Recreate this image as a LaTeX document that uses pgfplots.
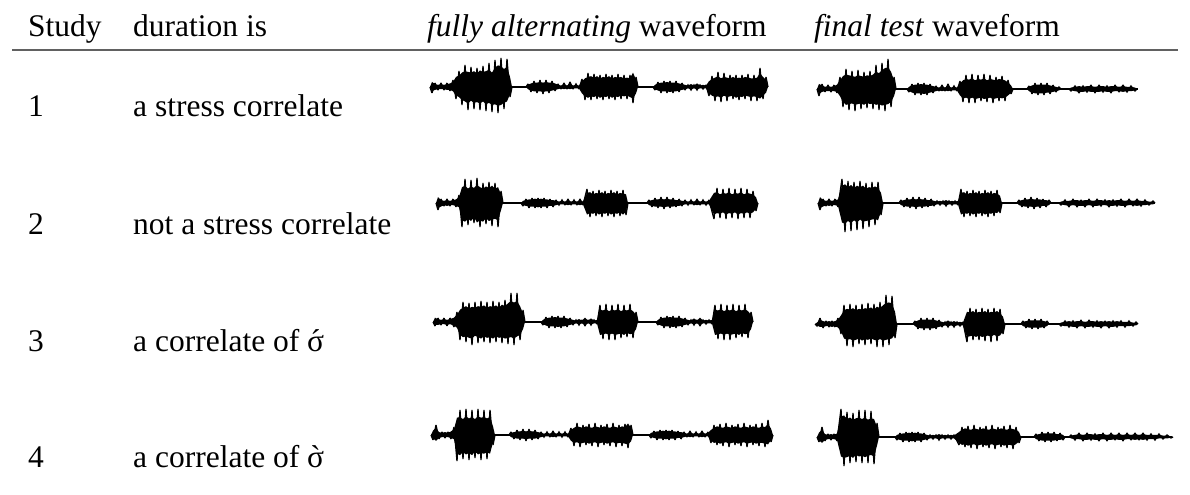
\documentclass[border=0pt]{standalone}
\usepackage{pgfplots}
\usepackage{pgfplotstable}
\pgfplotsset{compat=1.18}
\usepgfplotslibrary{fillbetween}
\usepackage{fontspec}
\setmainfont{Liberation Serif}
\newfontfamily\plainserif{Liberation Serif}
\newcommand{\fs}{\fontsize{31.5bp}{38bp}\selectfont}
\newcommand{\acsig}{{\ooalign{σ\cr\hidewidth{\plainserif\char"B4}\hidewidth\cr}}}
\newcommand{\grsig}{{\ooalign{σ\cr\hidewidth{\plainserif\char"60}\hidewidth\cr}}}

% waveforms: x, upward amplitude u, downward amplitude d (pixels)
\pgfplotstableread{
x u d
430 0 0
432 7 6
435 4 4
438 3 3
441 4 3
444 3 3
447 4 4
450 5 4
453 7 6
456 14 12
459 16 14
462 20 18
465 22 20
468 21 23
471 20 19
474 22 22
477 19 21
480 23 23
483 21 20
486 22 24
489 24 22
492 20 25
495 27 24
498 30 26
501 29 25
504 25 22
507 28 20
510 14 10
512 0 0
526 0 0
528 3 3
531 5 5
534 6 6
537 6 6
540 7 6
543 6 7
546 7 6
549 6 6
552 6 5
555 5 4
558 3 3
561 2 2
564 4 3
567 2 2
570 5 3
573 2 2
576 3 2
579 2 2
582 8 9
585 12 13
588 14 15
591 15 13
594 13 14
597 15 12
600 12 15
603 14 13
606 13 14
609 15 12
612 12 15
615 14 13
618 13 14
621 14 12
624 12 13
627 13 12
630 12 14
633 20 16
636 10 9
638 0 0
653 0 0
655 3 3
658 5 5
661 6 6
664 6 6
667 7 6
670 6 7
673 6 6
676 6 6
679 5 5
682 4 4
685 3 3
688 2 2
691 4 3
694 2 2
697 5 3
700 2 2
703 3 2
706 2 2
709 8 9
712 11 12
715 13 14
718 15 13
721 12 15
724 14 12
727 13 14
730 12 13
733 14 12
736 12 15
739 13 13
742 12 14
745 14 12
748 13 13
751 12 14
754 12 13
757 13 14
760 19 16
763 14 12
766 10 8
768 0 0
}\waveA

\pgfplotstableread{
x u d
817 0 0
819 7 7
822 5 4
825 3 3
828 4 3
831 3 3
834 4 3
837 6 4
840 12 10
843 18 18
846 20 22
849 19 21
852 18 20
855 17 22
858 19 21
861 18 20
864 17 22
867 19 19
870 18 21
873 20 20
876 24 22
879 22 21
882 26 23
885 29 22
888 30 21
891 24 18
894 12 10
896 0 0
907 0 0
909 3 3
912 5 5
915 6 6
918 6 6
921 7 6
924 6 7
927 6 6
930 5 5
933 4 4
936 3 3
939 2 2
942 4 3
945 2 2
948 5 3
951 2 2
954 3 2
957 2 2
960 8 9
963 12 13
966 14 12
969 13 14
972 15 12
975 12 14
978 14 13
981 13 12
984 15 14
987 12 13
990 14 12
993 13 14
996 12 13
999 14 12
1002 13 13
1005 12 12
1008 9 9
1011 5 5
1013 0 0
1027 0 0
1029 3 3
1032 5 5
1035 6 6
1038 6 6
1041 6 6
1044 6 6
1047 6 5
1050 5 5
1053 4 4
1056 3 3
1059 2 2
1061 0 0
1069 0 0
1071 2 2
1075 3 3
1079 4 4
1083 3 4
1087 4 3
1091 4 4
1095 3 4
1099 4 4
1103 4 3
1107 3 4
1111 4 4
1115 4 3
1119 3 3
1123 4 4
1127 3 3
1131 3 3
1135 2 2
1137 0 0
}\waveB

\pgfplotstableread{
x u d
436 0 0
438 8 7
441 4 5
444 3 3
447 4 4
450 3 3
453 4 3
456 5 4
459 8 6
462 22 24
465 24 26
468 20 22
471 23 25
474 21 20
477 25 27
480 22 24
483 20 26
486 23 21
489 21 25
492 24 23
495 20 22
498 22 24
501 12 10
503 0 0
521 0 0
523 3 3
526 4 4
529 5 5
532 5 5
535 6 5
538 5 6
541 6 5
544 5 5
547 5 5
550 4 4
553 4 4
556 3 3
559 2 2
562 3 2
565 2 2
568 4 3
571 2 2
574 3 2
577 2 2
580 4 3
583 2 2
587 14 16
590 15 14
593 12 15
596 14 13
599 13 16
602 15 14
605 12 15
608 14 13
611 13 16
614 15 14
617 12 15
620 14 13
623 13 16
626 12 12
628 0 0
647 0 0
649 3 3
652 4 4
655 5 5
658 5 5
661 6 5
664 5 6
667 6 5
670 5 5
673 5 5
676 4 4
679 4 4
682 3 3
685 3 2
688 2 2
691 3 2
694 2 2
697 4 3
700 2 2
703 3 2
706 2 2
709 3 2
714 14 16
717 15 14
720 12 15
723 14 13
726 13 16
729 15 14
732 12 15
735 14 13
738 13 16
741 15 14
744 12 15
747 14 13
750 13 15
753 12 13
756 8 8
758 0 0
}\waveC

\pgfplotstableread{
x u d
818 0 0
820 8 7
823 4 5
826 3 3
829 4 4
832 3 3
835 4 3
838 5 4
842 24 27
845 26 29
848 22 25
851 25 28
854 21 24
857 24 27
860 22 23
863 24 26
866 20 25
869 22 24
872 21 23
875 23 22
878 21 24
881 14 12
883 0 0
899 0 0
901 3 3
904 4 4
907 5 5
910 5 5
913 6 5
916 5 6
919 6 5
922 5 5
925 5 5
928 4 4
931 4 4
934 3 3
937 2 2
940 3 2
943 2 2
946 4 3
949 2 2
952 3 2
955 2 2
958 3 2
961 14 16
964 15 14
967 12 15
970 14 13
973 13 16
976 15 14
979 12 15
982 14 13
985 13 16
988 15 14
991 12 15
994 14 13
997 13 14
1000 10 10
1002 0 0
1017 0 0
1019 3 3
1022 4 4
1025 5 5
1028 5 5
1031 6 5
1034 5 6
1037 5 5
1040 5 5
1043 4 4
1046 4 4
1049 3 3
1051 0 0
1059 0 0
1061 2 2
1065 3 3
1069 3 4
1073 4 3
1077 4 4
1081 3 4
1085 4 4
1089 4 3
1093 3 4
1097 4 4
1101 4 3
1105 3 3
1109 4 4
1113 3 4
1117 4 3
1121 4 4
1125 3 4
1129 4 3
1133 3 3
1137 4 4
1141 3 3
1145 3 3
1149 2 2
1153 2 2
1155 0 0
}\waveD

\pgfplotstableread{
x u d
433 0 0
435 6 4
438 4 4
441 3 3
444 4 3
447 3 4
450 4 3
454 6 5
457 10 8
460 17 18
463 20 21
466 22 20
469 19 22
472 21 23
475 20 19
478 22 21
481 21 23
484 23 20
487 20 22
490 22 21
493 21 23
496 23 20
499 20 22
502 24 21
505 22 23
508 26 22
511 29 21
514 27 23
517 29 20
520 22 18
523 12 10
525 0 0
541 0 0
543 3 3
546 5 5
549 6 6
552 6 6
555 7 6
558 6 7
561 6 6
564 6 6
567 5 5
570 4 4
573 3 3
576 2 2
579 4 3
582 2 2
585 6 4
588 2 2
591 5 3
594 2 2
597 3 2
600 17 18
603 16 17
606 18 16
609 15 18
612 17 16
615 16 18
618 18 17
621 15 16
624 17 18
627 16 15
630 18 17
633 15 16
636 10 10
638 0 0
656 0 0
658 3 3
661 5 5
664 6 6
667 6 6
670 7 6
673 6 7
676 6 6
679 6 6
682 5 5
685 4 4
688 3 3
691 2 2
694 5 3
697 2 2
700 6 4
703 2 2
706 3 2
709 2 2
712 3 2
715 17 18
718 16 17
721 18 16
724 15 18
727 17 16
730 16 18
733 18 17
736 15 16
739 17 18
742 16 15
745 18 17
748 15 16
751 10 10
753 0 0
}\waveE

\pgfplotstableread{
x u d
815 0 0
817 2 2
820 6 4
823 4 4
826 3 3
829 4 3
832 3 4
835 4 3
838 6 5
841 12 10
844 19 20
847 21 22
850 20 21
853 22 23
856 19 22
859 21 20
862 20 23
865 22 21
868 21 22
871 23 20
874 20 22
877 24 23
880 22 21
883 26 23
886 29 22
889 30 21
892 28 20
895 17 14
897 0 0
913 0 0
915 3 3
918 5 5
921 6 6
924 6 6
927 6 6
930 6 6
933 6 6
936 5 5
939 4 4
942 3 3
945 2 2
948 5 3
951 2 2
954 4 3
957 2 2
960 3 2
963 2 2
967 17 18
970 16 17
973 18 16
976 15 18
979 17 16
982 16 18
985 18 17
988 15 16
991 17 18
994 16 15
997 18 17
1000 15 16
1003 10 10
1005 0 0
1021 0 0
1023 3 3
1026 4 4
1029 5 5
1032 5 5
1035 5 5
1038 5 5
1041 5 5
1044 4 4
1047 3 3
1049 0 0
1059 0 0
1061 2 2
1065 3 3
1069 4 3
1073 3 4
1077 4 4
1081 4 3
1085 3 4
1089 4 4
1093 4 3
1097 3 4
1101 4 4
1105 3 3
1109 4 4
1113 3 4
1117 4 3
1121 3 3
1125 3 3
1129 3 3
1133 2 2
1136 2 2
1138 0 0
}\waveF

\pgfplotstableread{
x u d
431 0 0
433 6 5
436 10 8
439 4 4
442 3 3
445 4 3
448 3 3
451 5 4
454 8 6
457 24 26
460 25 28
463 22 24
466 26 27
469 23 25
472 25 28
475 22 23
478 26 27
481 24 25
484 25 26
487 23 24
490 25 26
493 12 10
495 0 0
509 0 0
511 3 3
514 4 4
517 5 5
520 5 5
523 6 5
526 5 6
529 6 5
532 5 5
535 5 5
538 4 4
541 3 3
544 2 2
547 3 2
550 2 2
553 4 3
556 2 2
559 3 2
562 2 2
565 3 2
568 2 2
571 7 8
574 10 11
577 12 10
580 11 12
583 10 11
586 12 10
589 11 12
592 10 11
595 12 10
598 11 12
601 10 11
604 12 10
607 11 12
610 10 11
613 12 10
616 11 12
619 10 11
622 12 11
625 11 12
628 16 13
631 10 9
633 0 0
649 0 0
651 3 3
654 4 4
657 5 5
660 5 5
663 6 5
666 5 6
669 6 5
672 5 5
675 5 5
678 4 4
681 4 4
684 3 3
687 2 2
690 4 3
693 2 2
696 3 2
699 2 2
702 4 3
705 2 2
708 3 2
711 7 8
714 10 11
717 12 10
720 11 12
723 10 11
726 12 10
729 11 12
732 10 11
735 12 10
738 11 12
741 10 11
744 12 10
747 11 12
750 10 11
753 12 10
756 11 12
759 10 11
762 12 11
765 11 12
768 15 13
771 9 7
773 0 0
}\waveG

\pgfplotstableread{
x u d
817 0 0
819 6 5
822 10 8
825 4 4
828 3 3
831 4 3
834 3 3
837 5 4
841 28 27
844 30 29
847 25 28
850 27 26
853 24 29
856 26 25
859 27 27
862 25 26
865 27 28
868 24 26
871 26 25
874 25 27
877 14 12
879 0 0
895 0 0
897 3 3
900 4 4
903 5 5
906 5 5
909 6 5
912 5 6
915 6 5
918 5 5
921 5 5
924 4 4
927 3 3
930 2 2
933 3 2
936 2 2
939 4 3
942 2 2
945 3 2
948 2 2
951 3 2
954 2 2
959 7 8
962 10 11
965 12 10
968 11 12
971 10 11
974 12 10
977 11 12
980 10 11
983 12 10
986 11 12
989 10 11
992 12 10
995 11 12
998 10 11
1001 12 10
1004 11 12
1007 10 11
1010 12 11
1013 11 12
1016 10 10
1019 7 6
1021 0 0
1034 0 0
1036 3 3
1039 4 4
1042 5 5
1045 5 5
1048 5 5
1051 5 5
1054 5 5
1057 4 4
1060 4 4
1063 3 3
1065 0 0
1069 0 0
1071 2 2
1075 3 3
1079 4 3
1083 3 4
1087 4 4
1091 4 3
1095 3 4
1099 4 4
1103 4 3
1107 3 4
1111 4 4
1115 3 3
1119 4 4
1123 3 4
1127 4 3
1131 3 3
1135 4 4
1139 3 3
1143 4 4
1147 3 3
1151 3 3
1155 3 3
1159 3 2
1163 2 2
1167 2 2
1171 1 1
1173 0 0
}\waveH

\pgfplotsset{base/.style={black, line width=1.4bp}}
% one waveform: #1 table, #2 centre line y, #3 name
\newcommand{\wave}[3]{%
  \addplot[draw=none, name path=t#3] table[x=x, y expr=#2-0.72*\thisrow{u}] {#1};
  \addplot[draw=none, name path=b#3] table[x=x, y expr=#2+0.72*\thisrow{d}] {#1};
  \addplot[black] fill between[of=t#3 and b#3];
  \addplot[black, line width=1.3bp, line join=miter, miter limit=2] table[x=x,
    y expr={ifthenelse(mod(\coordindex,2)==0, #2-\thisrow{u}, #2+\thisrow{d})}] {#1};
}

\begin{document}
\begin{tikzpicture}
\begin{axis}[
  width=1190bp, height=494bp, scale only axis,
  xmin=0, xmax=1190, ymin=0, ymax=494, y dir=reverse,
  axis lines=none, clip=false,
]
% frame of the picture (invisible)
\addplot[draw=none] coordinates {(0,0) (1190,494)};
% rule under header
\addplot[black!62, line width=2bp] coordinates {(12,50) (1178,50)};

% header
\node[anchor=base west, font=\fs, inner sep=0pt] at (axis cs:28,37) {Study};
\node[anchor=base west, font=\fs, inner sep=0pt] at (axis cs:133,37) {duration is};
\node[anchor=base west, font=\fs, inner sep=0pt] at (axis cs:427,37) {\textit{fully alternating} waveform};
\node[anchor=base west, font=\fs, inner sep=0pt] at (axis cs:814,37) {\textit{final test} waveform};

% rows text
\node[anchor=base west, font=\fs, inner sep=0pt] at (axis cs:28,117) {1};
\node[anchor=base west, font=\fs, inner sep=0pt] at (axis cs:133,117) {a stress correlate};
\node[anchor=base west, font=\fs, inner sep=0pt] at (axis cs:28,235) {2};
\node[anchor=base west, font=\fs, inner sep=0pt] at (axis cs:133,235) {not a stress correlate};
\node[anchor=base west, font=\fs, inner sep=0pt] at (axis cs:28,351) {3};
\node[anchor=base west, font=\fs, inner sep=0pt] at (axis cs:133,351) {a correlate of \acsig};
\node[anchor=base west, font=\fs, inner sep=0pt] at (axis cs:28,467) {4};
\node[anchor=base west, font=\fs, inner sep=0pt] at (axis cs:133,467) {a correlate of \grsig};

% row 1
\addplot[base] coordinates {(430,87) (768,87)};
\wave{\waveA}{87}{a}
\addplot[base] coordinates {(817,89) (1138,89)};
\wave{\waveB}{89}{b}
% row 2
\addplot[base] coordinates {(436,203) (757,203)};
\wave{\waveC}{203}{c}
\addplot[base] coordinates {(819,203) (1155,203)};
\wave{\waveD}{203}{d}
% row 3
\addplot[base] coordinates {(433,322) (752,322)};
\wave{\waveE}{322}{e}
\addplot[base] coordinates {(816,324) (1137,324)};
\wave{\waveF}{324}{f}
% row 4
\addplot[base] coordinates {(431,435) (772,435)};
\wave{\waveG}{435}{g}
\addplot[base] coordinates {(818,437) (1172,437)};
\wave{\waveH}{437}{h}
\end{axis}
\end{tikzpicture}
\end{document}
